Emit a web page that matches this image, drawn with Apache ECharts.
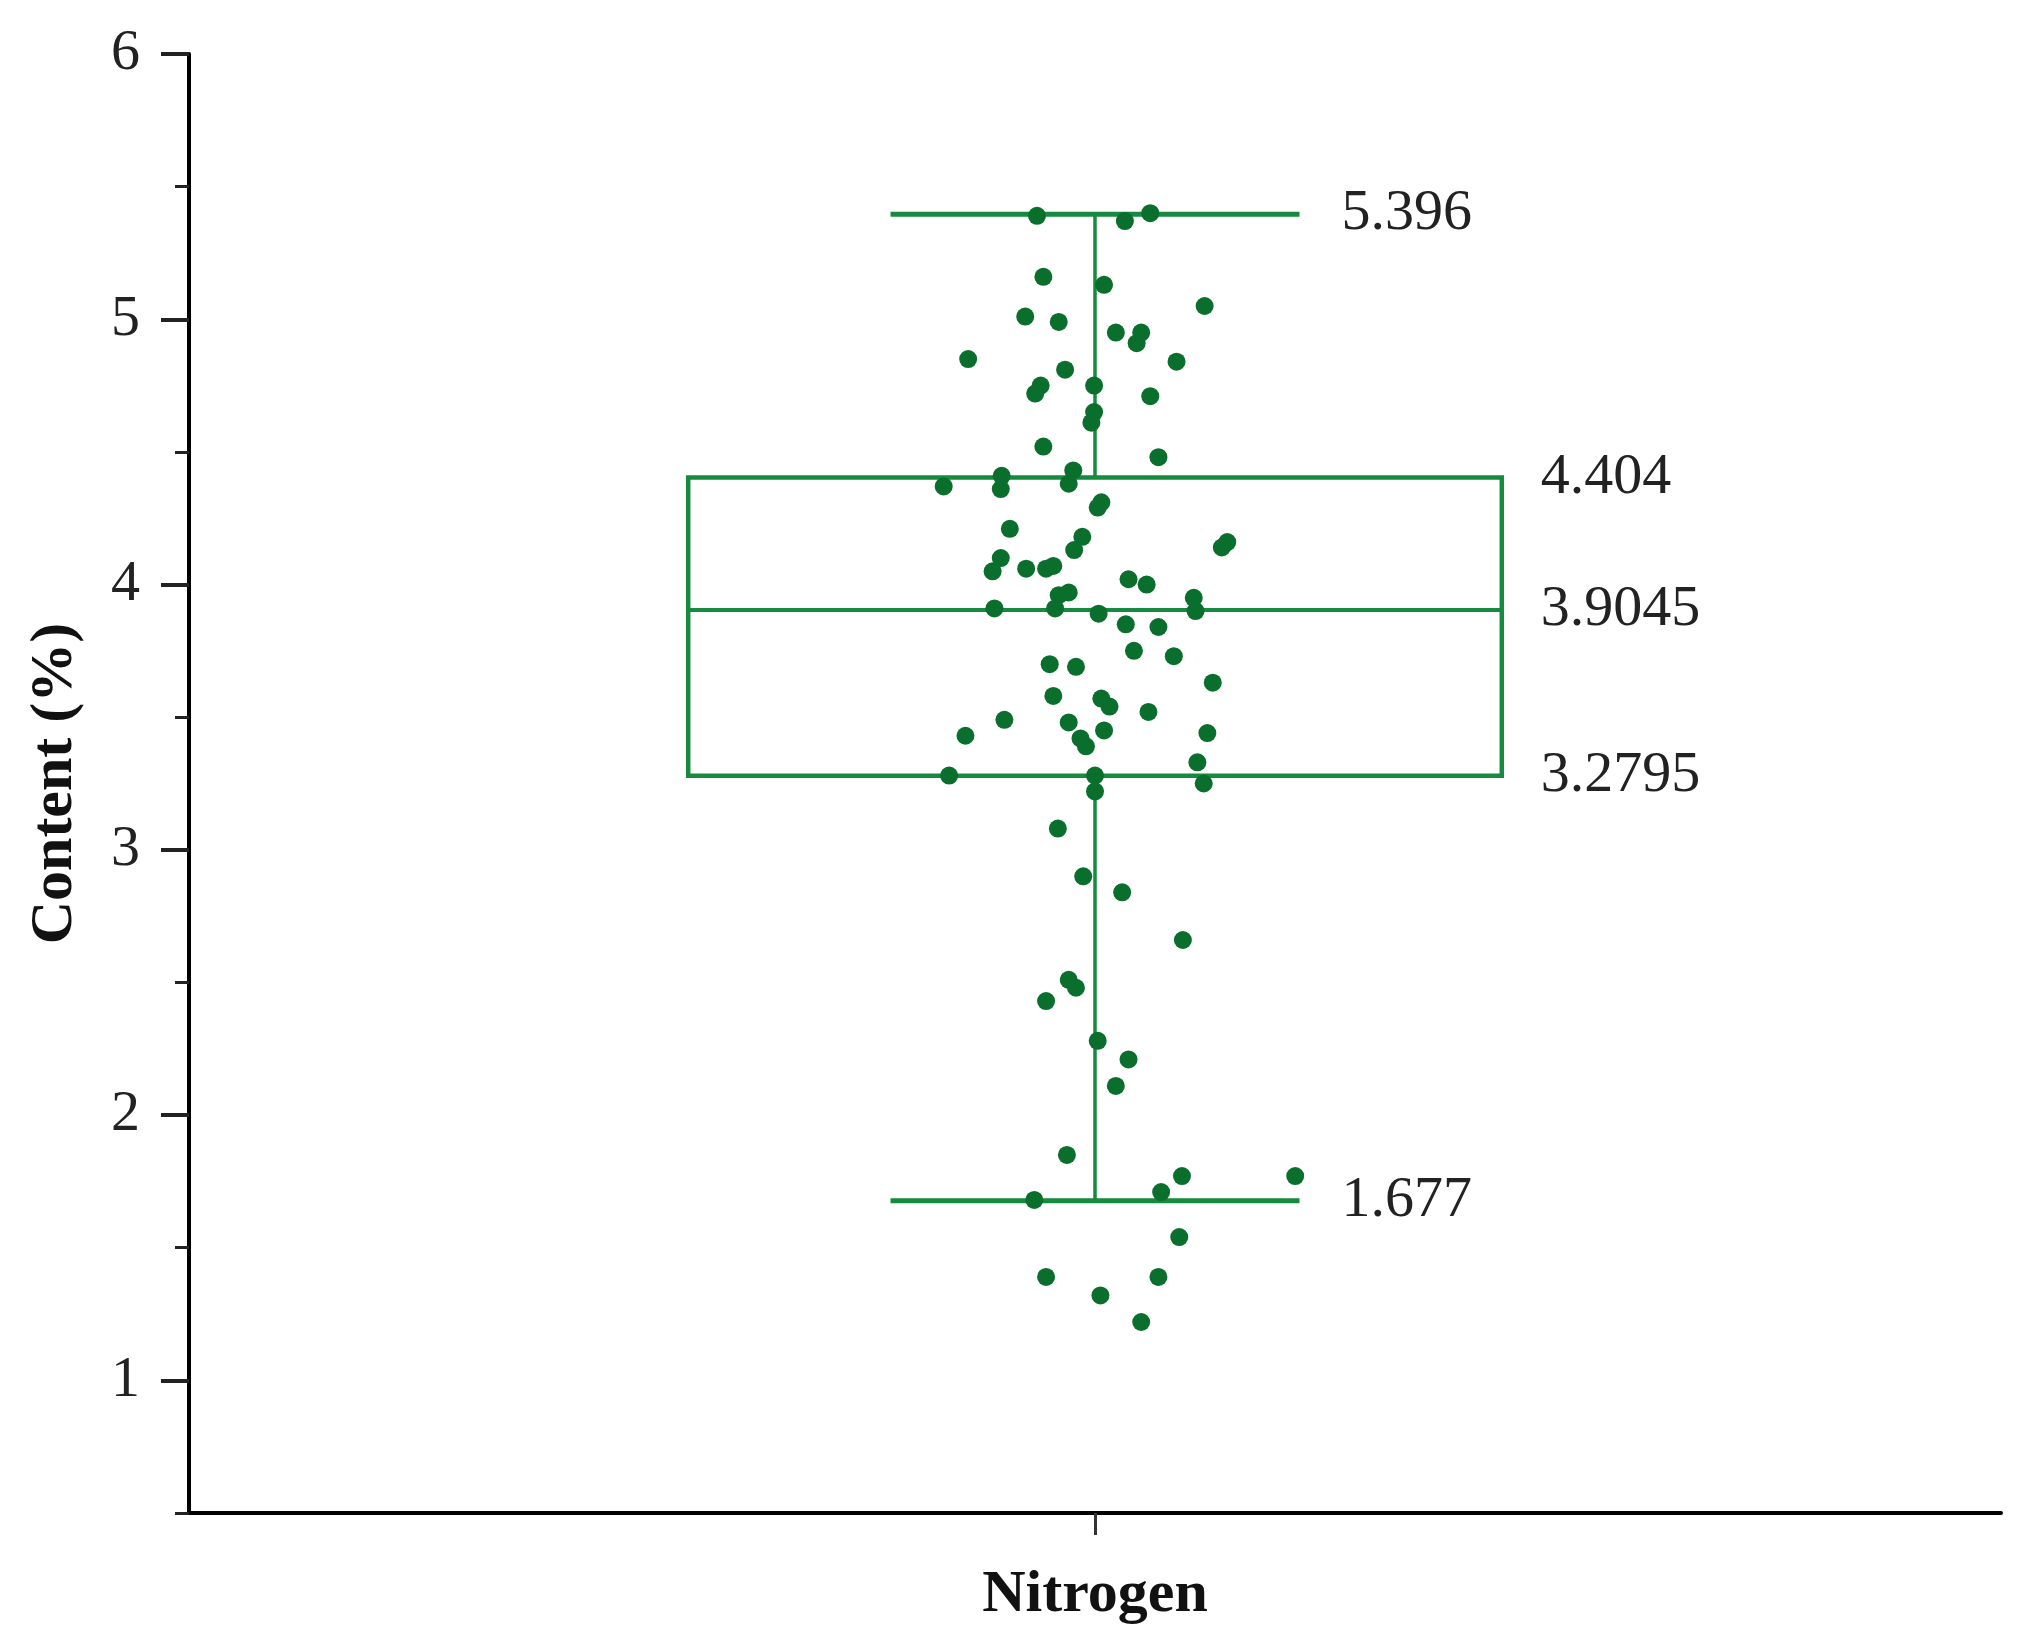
<!DOCTYPE html>
<html>
<head>
<meta charset="utf-8">
<script src="https://cdn.jsdelivr.net/npm/echarts@6/dist/echarts.min.js"></script>
<style>
  html, body { margin: 0; padding: 0; background: #fff; }
  #chart { width: 2031px; height: 1641px; }
</style>
</head>
<body>
<div id="chart"></div>
<script>
// ---- data ----
const categories = ['Nitrogen'];
// min (lower whisker), Q1, median, Q3, max (upper whisker)
const boxStats = [1.677, 3.2795, 3.9045, 4.404, 5.396];
const boxLabels = ['1.677', '3.2795', '3.9045', '4.404', '5.396'];

const pointValues = [
  5.39, 5.37, 5.40, 5.16, 5.13, 5.05, 5.01, 4.99, 4.95, 4.91,
  4.95, 4.85, 4.84, 4.81, 4.72, 4.75, 4.75, 4.71, 4.65, 4.61,
  4.52, 4.48, 4.43, 4.38, 4.41, 4.36, 4.37, 4.31, 4.29, 4.21,
  4.16, 4.14, 4.18, 4.13, 4.10, 4.05, 4.06, 4.07, 4.06, 4.02,
  4.00, 3.97, 3.96, 3.95, 3.90, 3.91, 3.91, 3.89, 3.85, 3.84,
  3.75, 3.73, 3.70, 3.69, 3.63, 3.58, 3.57, 3.54, 3.49, 3.48,
  3.52, 3.43, 3.42, 3.39, 3.45, 3.44, 3.33, 3.28, 3.28, 3.25,
  3.22, 3.08, 2.90, 2.84, 2.66, 2.51, 2.48, 2.43, 2.28, 2.21,
  2.11, 1.85, 1.77, 1.77, 1.71, 1.68, 1.54, 1.39, 1.39, 1.32,
  1.22
];
// horizontal jitter of each point (fraction of half the plot width)
const pointJitter = [
  -0.064, 0.033, 0.061, -0.057, 0.010, 0.121, -0.077, -0.040, 0.023, 0.046,
  0.051, -0.140, 0.090, -0.033, -0.066, -0.060, -0.001, 0.061, -0.001, -0.004,
  -0.057, 0.070, -0.024, -0.029, -0.103, -0.104, -0.167, 0.007, 0.003, -0.094,
  0.146, 0.140, -0.014, -0.023, -0.104, -0.113, -0.076, -0.046, -0.054, 0.037,
  0.057, -0.029, -0.040, 0.109, 0.111, -0.111, -0.044, 0.004, 0.034, 0.070,
  0.043, 0.087, -0.050, -0.021, 0.130, -0.046, 0.007, 0.016, -0.100, -0.029,
  0.059, -0.143, -0.016, -0.010, 0.010, 0.124, 0.113, -0.161, 0.000, 0.120,
  0.000, -0.041, -0.013, 0.030, 0.097, -0.029, -0.021, -0.054, 0.003, 0.037,
  0.023, -0.031, 0.096, 0.221, 0.073, -0.067, 0.093, -0.054, 0.070, 0.006,
  0.051
];

const yMajorTicks = [1, 2, 3, 4, 5, 6];
const yMinorTicks = [0.5, 1.5, 2.5, 3.5, 4.5, 5.5];

// ---- styles ----
const SERIF = 'Liberation Serif, Times New Roman, serif';
const LINE_GREEN = '#168a3e';
const DOT_GREEN = '#0a6f2c';
const BOX_FRAC = 0.449;   // box width / category band
const CAP_FRAC = 0.2257;  // whisker cap width / category band

const chart = echarts.init(document.getElementById('chart'), null, { renderer: 'canvas' });

const scatterData = pointValues.map((v, i) => [pointJitter[i], v]);

const option = {
  animation: false,
  backgroundColor: '#ffffff',
  grid: { left: 189, right: 30, top: 54, bottom: 128, containLabel: false },
  xAxis: [
    {
      type: 'category',
      data: categories,
      boundaryGap: true,
      axisLine: { show: true, onZero: false, lineStyle: { color: '#000', width: 4 } },
      axisTick: { show: true, alignWithLabel: true, length: 22, lineStyle: { color: '#333', width: 3 } },
      axisLabel: { margin: 52, fontFamily: SERIF, fontWeight: 'bold', fontSize: 60, color: '#111' },
      splitLine: { show: false }
    },
    {
      type: 'value',
      min: -1,
      max: 1,
      show: false,
      axisLine: { onZero: false },
      splitLine: { show: false }
    }
  ],
  yAxis: [
    {
      type: 'value',
      min: 0.5,
      max: 6,
      interval: 0.5,
      position: 'left',
      name: 'Content (%)',
      nameLocation: 'middle',
      nameRotate: 90,
      nameGap: 104,
      nameTextStyle: { fontFamily: SERIF, fontWeight: 'bold', fontSize: 60, color: '#111' },
      axisLine: { show: true, onZero: false, lineStyle: { color: '#000', width: 4 } },
      axisTick: { show: true, length: 28, customValues: yMajorTicks, lineStyle: { color: '#222', width: 4 } },
      axisLabel: { show: true, customValues: yMajorTicks, margin: 49, fontFamily: SERIF, fontSize: 58, color: '#222' },
      splitLine: { show: false }
    },
    {
      type: 'value',
      min: 0.5,
      max: 6,
      interval: 0.5,
      position: 'left',
      axisLine: { show: false, onZero: false },
      axisTick: { show: true, length: 14, customValues: yMinorTicks, lineStyle: { color: '#222', width: 3 } },
      axisLabel: { show: false },
      splitLine: { show: false }
    }
  ],
  series: [
    {
      type: 'custom',
      xAxisIndex: 0,
      yAxisIndex: 0,
      z: 2,
      data: [[0].concat(boxStats)],
      renderItem: function (params, api) {
        const cat = api.value(0);
        const xc = api.coord([cat, api.value(3)])[0];
        const band = api.size([1, 0])[0];
        const bw = band * BOX_FRAC;
        const cw = band * CAP_FRAC;
        const yMin = api.coord([cat, api.value(1)])[1];
        const yQ1 = api.coord([cat, api.value(2)])[1];
        const yMed = api.coord([cat, api.value(3)])[1];
        const yQ3 = api.coord([cat, api.value(4)])[1];
        const yMax = api.coord([cat, api.value(5)])[1];
        const lineStyle = (w) => ({ stroke: LINE_GREEN, lineWidth: w, fill: null });
        const txt = (x, y, s) => ({
          type: 'text',
          style: { x: x, y: y, text: s, fill: '#222', font: '58px ' + SERIF, textAlign: 'left', textVerticalAlign: 'middle' }
        });
        return {
          type: 'group',
          children: [
            { type: 'line', shape: { x1: xc, y1: yMax, x2: xc, y2: yQ3 }, style: lineStyle(3.5) },
            { type: 'line', shape: { x1: xc, y1: yQ1, x2: xc, y2: yMin }, style: lineStyle(3.5) },
            { type: 'line', shape: { x1: xc - cw / 2, y1: yMax, x2: xc + cw / 2, y2: yMax }, style: lineStyle(5) },
            { type: 'line', shape: { x1: xc - cw / 2, y1: yMin, x2: xc + cw / 2, y2: yMin }, style: lineStyle(5) },
            { type: 'rect', shape: { x: xc - bw / 2, y: yQ3, width: bw, height: yQ1 - yQ3 }, style: lineStyle(4.5) },
            { type: 'line', shape: { x1: xc - bw / 2, y1: yMed, x2: xc + bw / 2, y2: yMed }, style: lineStyle(4) },
            txt(xc + cw / 2 + 42, yMax, boxLabels[4]),
            txt(xc + cw / 2 + 42, yMin, boxLabels[0]),
            txt(xc + bw / 2 + 39, yQ3, boxLabels[3]),
            txt(xc + bw / 2 + 39, yMed, boxLabels[2]),
            txt(xc + bw / 2 + 39, yQ1, boxLabels[1])
          ]
        };
      }
    },
    {
      type: 'scatter',
      xAxisIndex: 1,
      yAxisIndex: 0,
      z: 5,
      symbol: 'circle',
      symbolSize: 18,
      itemStyle: { color: DOT_GREEN, opacity: 1 },
      data: scatterData
    }
  ]
};

chart.setOption(option);
</script>
</body>
</html>
